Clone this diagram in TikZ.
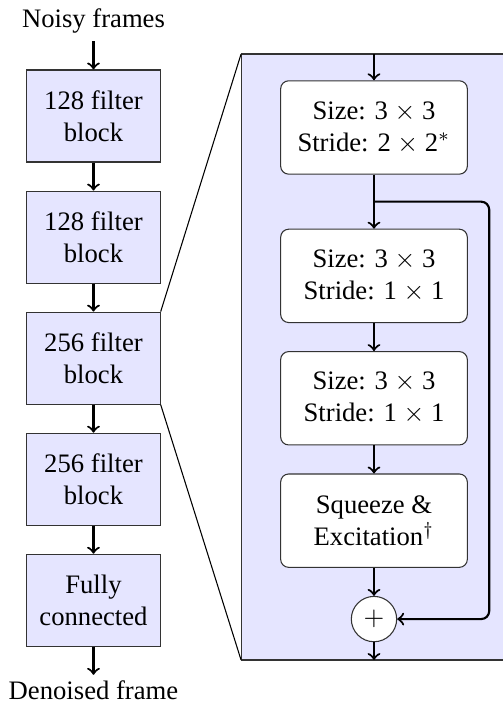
\documentclass[tikz,border=0pt]{standalone}
\usepackage{fontspec}
\setmainfont{Liberation Serif}
\usetikzlibrary{calc}
\usetikzlibrary{positioning}
\tikzset{block/.style={draw=black!80, fill=blue!10, minimum width=50pt, minimum height=34.5pt, inner sep=1pt, align=center}}
\tikzset{layer/.style={draw=black!80, fill=white, rounded corners=3pt, minimum width=70pt, minimum height=35pt, inner sep=1pt, align=center}}
\tikzset{tag/.style={inner sep=3pt}}
\tikzset{flow/.style={->, thick}}
\tikzset{adder/.style={circle, draw=black!80, fill=white, minimum size=17pt, inner sep=0pt}}

\begin{document}
\begin{tikzpicture}
  \useasboundingbox (0,0) rectangle (188.6pt,-263.25pt);
  \coordinate (pnw) at (90.4pt,-20.25pt);
  \coordinate (pse) at (200pt,-247.5pt);
  \coordinate (psw) at (pnw |- pse);
  \draw[draw=black!80, fill=blue!10] (pnw) rectangle (pse);

  \node[block] (b1) at (35.06pt,-43.5pt) {128 filter\\block};
  \foreach \x/\t [remember=\x as \lastx (initially 1)] in {2/128 filter\\block, 3/256 filter\\block, 4/256 filter\\block, 5/Fully\\connected}{
    \node[block, below = 10.5pt of b\lastx] (b\x) {\t};
    \draw[flow] (b\lastx) -- (b\x);
  }
  \node[tag, above = 10.5pt of b1] (in) {Noisy frames};
  \node[tag, inner ysep=2pt, below = 10.5pt of b5] (out) {Denoised frame};
  \draw[flow] (in) -- (b1);
  \draw[flow] (b5) -- (out);

  \node[layer] (s1) at (140.25pt,-47.8pt) {Size: 3 $\times$ 3\\Stride: 2 $\times$ 2$^*$};
  \node[layer, below = 20.25pt of s1] (s2) {Size: 3 $\times$ 3\\Stride: 1 $\times$ 1};
  \node[layer, below = 10.5pt of s2] (s3) {Size: 3 $\times$ 3\\Stride: 1 $\times$ 1};
  \node[layer, below = 10.5pt of s3] (s4) {Squeeze \&\\Excitation$^\dagger$};
  \node[adder, below = 10.5pt of s4] (sum) {$+$};

  \coordinate (pin) at (s1 |- pnw);
  \coordinate (pout) at (sum |- psw);
  \coordinate (fork) at ($(s1.south)!0.5!(s2.north)$);
  \coordinate (loop) at ($(s2.east)+(8pt,0)$);
  \draw[flow] (pin) -- (s1);
  \draw[flow] (s1) -- (s2);
  \draw[flow] (s2) -- (s3);
  \draw[flow] (s3) -- (s4);
  \draw[flow] (s4) -- (sum);
  \draw[flow] (sum) -- (pout);
  \draw[flow, rounded corners=3pt] (fork) -| (loop |- sum) -- (sum);

  % zoom lines
  \draw (b3.north east) -- (pnw);
  \draw (b3.south east) -- (psw);
\end{tikzpicture}
\end{document}
